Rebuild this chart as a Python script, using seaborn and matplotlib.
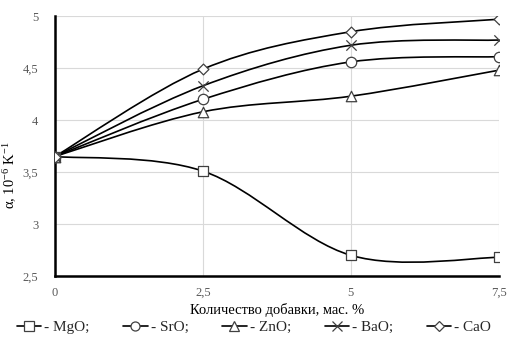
import numpy as np
import matplotlib
matplotlib.use("Agg")
import matplotlib.pyplot as plt
import seaborn as sns
from matplotlib.path import Path
from matplotlib.patches import PathPatch
from matplotlib.lines import Line2D

# Данные
x_vals = [0, 2.5, 5, 7.5]
mgo = [3.65, 3.51, 2.70, 2.68]
sro = [3.65, 4.20, 4.56, 4.61]
zno = [3.65, 4.08, 4.23, 4.48]
bao = [3.65, 4.33, 4.72, 4.77]
cao = [3.65, 4.49, 4.85, 4.97]
names = ["MgO", "SrO", "ZnO", "BaO", "CaO"]
markers = ["s", "o", "^", "x", "D"]
series = [mgo, sro, zno, bao, cao]

sns.set_theme(style="white")
plt.rcParams['font.family'] = ['Liberation Serif', 'DejaVu Serif']
plt.rcParams['mathtext.default'] = 'regular'

fig = plt.figure(figsize=(5.08, 3.43), dpi=100)
ax = fig.add_axes([0.108, 0.195, 0.874, 0.758])


def smooth_path(xs, ys):
    # сглаженная линия как в Excel (Безье через точки)
    pts = np.column_stack([xs, ys])
    verts = [pts[0]]
    codes = [Path.MOVETO]
    n = len(pts)
    for i in range(n - 1):
        p0 = pts[i - 1] if i > 0 else pts[i]
        p1 = pts[i]
        p2 = pts[i + 1]
        p3 = pts[i + 2] if i + 2 < n else pts[i + 1]
        c1 = p1 + (p2 - p0) / 6
        c2 = p2 - (p3 - p1) / 6
        verts += [c1, c2, p2]
        codes += [Path.CURVE4] * 3
    return Path(verts, codes)


handles = []
for name, mk, ys in zip(names, markers, series):
    ax.add_patch(PathPatch(smooth_path(x_vals, ys), facecolor='none',
                           edgecolor='black', lw=1.2, zorder=2))
    if mk == 'x':
        sns.scatterplot(x=x_vals, y=ys, marker='x', s=55, color='#404040',
                        linewidth=0.9, ax=ax, zorder=3)
    else:
        ms = 5.5 if mk == 'D' else 7.5
        sns.scatterplot(x=x_vals, y=ys, marker=mk, s=ms ** 2, color='white',
                        edgecolor='#404040', linewidth=0.9, ax=ax, zorder=3)
    handles.append(Line2D([], [], color='black', lw=1.2, marker=mk,
                          markersize=6.5 if mk != 'D' else 5,
                          markerfacecolor='white', markeredgecolor='#404040',
                          markeredgewidth=0.9,
                          label=f"- {name};" if name != "CaO" else f"- {name}"))

ax.set_xlim(0, 7.5)
ax.set_ylim(2.5, 5)
ax.set_xticks(x_vals)
ax.set_xticklabels(["0", "2,5", "5", "7,5"])
ax.set_yticks([2.5, 3, 3.5, 4, 4.5, 5])
ax.set_yticklabels(["2,5", "3", "3,5", "4", "4,5", "5"])
ax.tick_params(axis='both', labelsize=9, colors='#595959')
ax.tick_params(axis='x', length=4, width=1, color='black', pad=4)
ax.tick_params(axis='y', length=0, pad=12)
ax.grid(True, color='#d9d9d9', lw=0.8)
for s in ['top', 'right']:
    ax.spines[s].set_visible(False)
for s in ['left', 'bottom']:
    ax.spines[s].set_color('black')
    ax.spines[s].set_linewidth(1.8)

ax.set_xlabel("Количество добавки, мас. %", fontsize=10.5, color='black', labelpad=3)
ax.set_ylabel("α, 10$^{-6}$ K$^{-1}$", fontsize=10.5, color='black')
ax.yaxis.set_label_coords(-0.08, 0.39)

fig.legend(handles=handles, loc='lower center', ncol=5, frameon=False,
           fontsize=11, bbox_to_anchor=(0.5, -0.015), handlelength=1.6,
           handletextpad=0.2, columnspacing=2.2)

fig.savefig("out.png", dpi=100)
